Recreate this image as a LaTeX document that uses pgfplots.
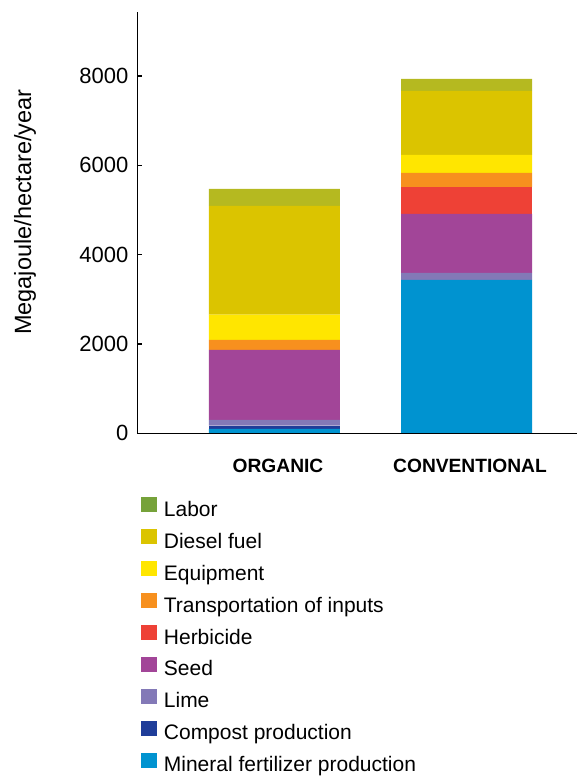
\documentclass[border=0pt]{standalone}
\usepackage{fontspec}
\setmainfont{Liberation Sans}
\usepackage{pgfplots}
\pgfplotsset{compat=1.18}
\definecolor{cLaborBar}{RGB}{181,185,32}
\definecolor{cLaborLeg}{RGB}{118,162,58}
\definecolor{cDiesel}{RGB}{219,196,0}
\definecolor{cEquip}{RGB}{255,230,0}
\definecolor{cTrans}{RGB}{247,144,30}
\definecolor{cHerb}{RGB}{238,65,54}
\definecolor{cSeed}{RGB}{162,69,152}
\definecolor{cLime}{RGB}{131,121,183}
\definecolor{cCompost}{RGB}{31,61,153}
\definecolor{cMineral}{RGB}{0,147,208}
\newcommand{\legsq}[2]{\addlegendimage{legend image code/.code={\fill[#1] (0pt,0pt) rectangle (14.5pt,14pt);}}\addlegendentry{#2}}
\begin{document}
\begin{tikzpicture}
\path[use as bounding box] (-137.5pt,-342.7pt) rectangle (440.5pt,433.3pt);
\begin{axis}[
  anchor=south west, at={(0pt,0pt)},
  scale only axis, width=439.5pt, height=421.3pt,
  xmin=-0.7135, xmax=1.5755, ymin=0, ymax=9435,
  ybar stacked, bar width=131pt,
  axis on top,
  axis lines*=left,
  axis line style={line width=1.2pt, black},
  xtick={0,1}, xticklabels={ORGANIC,CONVENTIONAL},
  x tick style={draw=none},
  ytick={0,2000,4000,6000,8000},
  y tick style={line width=1.2pt, black},
  tick align=inside, major tick length=5pt,
  /pgf/number format/assume math mode=true,
  /pgf/number format/1000 sep={},
  yticklabel style={font=\fontsize{22}{26}\selectfont, inner sep=0pt, xshift=-9pt},
  xticklabel style={font=\bfseries\fontsize{19.2}{23}\selectfont, anchor=base, inner sep=0pt, yshift=-38.7pt, xshift=3.5pt},
  ylabel={Megajoule/hectare/year},
  ylabel style={at={(axis description cs:-0.256,0.525)}, anchor=center, font=\fontsize{23.5}{28}\selectfont},
  legend cell align=left,
  legend style={draw=none, fill=none, at={(0.008,-0.1512)}, anchor=north west,
    inner sep=0pt, outer sep=0pt, font=\fontsize{21}{25}\selectfont, row sep=7.75pt,
    nodes={inner sep=0pt, text height=15pt, text depth=5pt},
    /tikz/every odd column/.append style={column sep=8pt}},
]
\addplot[fill=cMineral, draw=none, forget plot] coordinates {(0,100) (1,3434)};
\addplot[fill=cCompost, draw=none, forget plot] coordinates {(0,70) (1,0)};
\addplot[fill=cLime, draw=none, forget plot] coordinates {(0,130) (1,157)};
\addplot[fill=cSeed, draw=none, forget plot] coordinates {(0,1570) (1,1321)};
\addplot[fill=cHerb, draw=none, forget plot] coordinates {(0,0) (1,605)};
\addplot[fill=cTrans, draw=none, forget plot] coordinates {(0,225) (1,314)};
\addplot[fill=cEquip, draw=none, forget plot] coordinates {(0,560) (1,403)};
\addplot[fill=cDiesel, draw=none, forget plot] coordinates {(0,2440) (1,1434)};
\addplot[fill=cLaborBar, draw=none, forget plot] coordinates {(0,380) (1,268)};
\legsq{cLaborLeg}{Labor}
\legsq{cDiesel}{Diesel fuel}
\legsq{cEquip}{Equipment}
\legsq{cTrans}{Transportation of inputs}
\legsq{cHerb}{Herbicide}
\legsq{cSeed}{Seed}
\legsq{cLime}{Lime}
\legsq{cCompost}{Compost production}
\legsq{cMineral}{Mineral fertilizer production}
\end{axis}
\end{tikzpicture}
\end{document}
